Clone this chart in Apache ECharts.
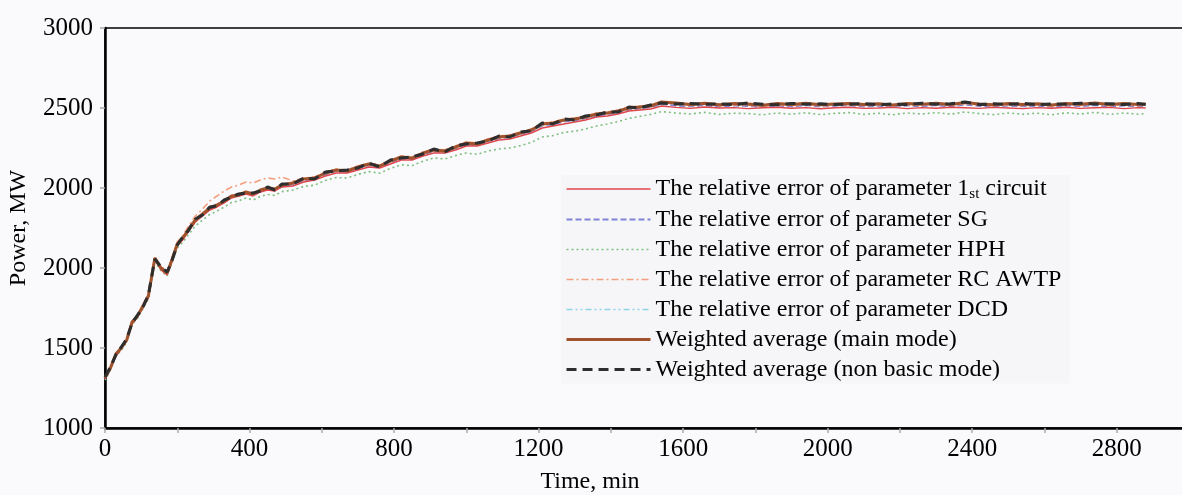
<!DOCTYPE html>
<html>
<head>
<meta charset="utf-8">
<script src="https://cdn.jsdelivr.net/npm/echarts@6/dist/echarts.min.js"></script>
<style>
html,body{margin:0;padding:0;background:#fafafc;}
#chart{width:1182px;height:495px;}
</style>
</head>
<body>
<div id="chart"></div>
<script>
var times = [0,15,30,45,60,75,90,105,120,138,155,172,185,200,215,230,250,270,290,310,330,350,370,390,410,430,450,470,490,
520,550,580,610,640,670,700,730,760,790,820,850,880,910,940,970,1000,1030,1060,1090,1120,1150,1180,1210,1240,1270,1300,1330,1360,1390,1420,1450,1480,1510,1540,
1580,1620,1660,1700,1740,1780,1820,1860,1900,1940,1980,2020,2060,2100,2140,2180,2220,2260,2300,2340,2380,2420,2460,2500,2540,2580,2620,2660,2700,2740,2780,2820,2860,2880];

var circuit1 = [1245,1295,1360,1395,1435,1520,1555,1600,1650,1840,1790,1765,1830,1910,1940,1980,2030,2060,2090,2105,2125,2150,2160,2170,2160,2180,2190,2185,2205,
2210,2230,2240,2260,2275,2275,2290,2305,2300,2320,2340,2340,2360,2375,2375,2390,2410,2410,2425,2440,2445,2460,2475,2500,2510,2520,2530,2540,2555,2560,2570,2585,2590,2595,2610,
2603,2598,2605,2600,2602,2597,2601,2604,2599,2602,2596,2601,2604,2598,2600,2603,2597,2602,2599,2604,2601,2598,2603,2600,2597,2602,2599,2604,2598,2601,2603,2597,2602,2600];

var sg = [1248,1298,1366,1398,1438,1527,1557,1606,1656,1846,1796,1772,1836,1916,1946,1986,2034,2064,2094,2110,2130,2154,2160,2174,2166,2184,2194,2190,2208,
2218,2238,2244,2268,2284,2280,2298,2314,2304,2328,2348,2344,2368,2384,2378,2398,2418,2414,2434,2448,2454,2468,2484,2512,2518,2532,2538,2548,2562,2568,2578,2592,2598,2604,2620,
2612,2608,2614,2606,2612,2610,2606,2612,2608,2614,2607,2611,2613,2607,2611,2606,2612,2609,2614,2608,2616,2610,2606,2612,2608,2611,2606,2613,2609,2614,2607,2612,2608,2610];

var hph = [1240,1290,1358,1388,1428,1518,1548,1596,1645,1832,1785,1760,1822,1900,1928,1965,2010,2040,2068,2085,2105,2128,2135,2150,2140,2158,2168,2163,2182,
2190,2208,2214,2238,2252,2250,2268,2282,2274,2298,2316,2312,2334,2350,2345,2362,2375,2368,2385,2395,2400,2412,2428,2455,2462,2478,2484,2495,2510,2520,2532,2548,2558,2568,2582,
2575,2570,2578,2568,2574,2572,2566,2575,2569,2576,2567,2573,2577,2568,2574,2566,2575,2570,2577,2569,2580,2572,2567,2575,2569,2574,2566,2576,2570,2578,2568,2575,2569,2572];

var rcAwtp = [1255,1305,1375,1405,1448,1535,1565,1615,1668,1855,1808,1782,1848,1930,1962,2005,2060,2095,2135,2160,2185,2205,2215,2230,2225,2240,2250,2245,2255,
2235,2250,2255,2280,2295,2290,2310,2325,2315,2340,2360,2355,2380,2395,2390,2410,2430,2425,2445,2460,2465,2480,2495,2525,2530,2545,2550,2560,2575,2580,2590,2605,2610,2615,2630,
2618,2612,2620,2610,2616,2614,2609,2617,2612,2619,2610,2615,2618,2611,2616,2609,2617,2613,2619,2612,2622,2615,2610,2617,2612,2616,2609,2618,2613,2620,2611,2617,2612,2615];

var dcd = [1252,1302,1368,1402,1442,1528,1562,1608,1662,1848,1802,1777,1838,1918,1952,1988,2038,2068,2098,2112,2132,2158,2162,2178,2168,2188,2198,2192,2212,
2222,2242,2248,2272,2288,2283,2302,2318,2308,2332,2352,2348,2372,2388,2382,2402,2422,2418,2438,2452,2458,2472,2488,2516,2522,2536,2542,2552,2566,2572,2582,2596,2602,2608,2626,
2620,2615,2621,2613,2619,2617,2611,2619,2615,2621,2613,2617,2620,2614,2618,2612,2619,2616,2621,2615,2624,2617,2613,2619,2615,2618,2612,2620,2616,2622,2614,2619,2615,2617];

var mainMode = [1250,1300,1370,1400,1440,1530,1560,1610,1660,1850,1800,1775,1840,1920,1950,1990,2040,2070,2100,2115,2135,2160,2165,2180,2170,2190,2200,2195,2215,
2225,2245,2250,2275,2290,2285,2305,2320,2310,2335,2355,2350,2375,2390,2385,2405,2425,2420,2440,2455,2460,2475,2490,2520,2525,2540,2545,2555,2570,2575,2585,2600,2605,2610,2630,
2625,2618,2624,2616,2622,2620,2614,2622,2618,2624,2616,2620,2623,2617,2621,2615,2622,2619,2624,2618,2628,2620,2616,2622,2618,2621,2615,2623,2619,2625,2617,2622,2618,2620];

var nonBasic = [1255,1305,1365,1405,1445,1525,1565,1605,1665,1845,1805,1780,1835,1915,1955,1985,2045,2065,2105,2110,2140,2155,2170,2175,2175,2185,2205,2190,2220,
2220,2250,2245,2280,2285,2290,2300,2325,2305,2340,2350,2355,2370,2395,2380,2410,2420,2425,2435,2460,2455,2480,2485,2525,2520,2545,2540,2560,2565,2580,2580,2605,2600,2615,2625,
2620,2623,2618,2621,2617,2625,2619,2616,2623,2619,2621,2617,2619,2622,2616,2620,2618,2624,2619,2621,2630,2617,2621,2618,2623,2616,2620,2619,2624,2620,2621,2617,2623,2618];

var seriesNames = [
  'The relative error of parameter 1st circuit',
  'The relative error of parameter SG',
  'The relative error of parameter HPH',
  'The relative error of parameter RC AWTP',
  'The relative error of parameter DCD',
  'Weighted average (main mode)',
  'Weighted average (non basic mode)'
];
var xTickLabels = ['0','400','800','1200','1600','2000','2400','2800'];
var yTickLabels = ['1000','1500','2000','2000','2500','3000'];

function pairs(arr){ return arr.map(function(v,i){ return [times[i], v]; }); }

var FONT = 'Liberation Serif';
var chart = echarts.init(document.getElementById('chart'));

var styles = [
  {data: circuit1, color:'#e0474c', width:1.4, type:'solid', z:5},
  {data: sg, color:'#7f84d6', width:1.8, type:[6,3], z:3},
  {data: hph, color:'#7fbf7f', width:1.6, type:[2,3], z:2},
  {data: rcAwtp, color:'#f2a07e', width:1.6, type:[7,3,2,3], z:4},
  {data: dcd, color:'#8fd3e6', width:1.6, type:[6,3,2,3,2,3], z:3},
  {data: mainMode, color:'#a0522d', width:3, type:'solid', z:6},
  {data: nonBasic, color:'#2e2e2e', width:3, type:[10,6], z:7}
];

var series = styles.map(function(s, i){
  return {
    name: seriesNames[i],
    type: 'line',
    data: pairs(s.data),
    symbol: 'none',
    z: s.z,
    lineStyle: {color: s.color, width: s.width, type: s.type},
    itemStyle: {color: s.color},
    animation: false
  };
});

chart.setOption({
  backgroundColor: '#fafafc',
  animation: false,
  grid: {left: 105, top: 28, width: 1084, height: 400, outerBoundsMode: 'none', containLabel: false,
         show: true, borderColor: '#000', borderWidth: 1.5, backgroundColor: 'transparent'},
  legend: {
    orient: 'vertical',
    left: 561,
    top: 175,
    data: seriesNames,
    itemWidth: 84,
    itemHeight: 14,
    itemGap: 6,
    padding: [2, 8, 2, 4],
    backgroundColor: 'rgba(240,240,243,0.4)',
    itemStyle: {opacity: 0},
    lineStyle: {width: 'inherit'},
    formatter: function(name){ return name.replace('1st', '1{sub|st}'); },
    textStyle: {
      fontFamily: FONT, fontSize: 24, color: '#000', lineHeight: 24,
      rich: {sub: {fontFamily: FONT, fontSize: 15, color: '#000', padding: [10, 0, 0, 0]}}
    }
  },
  xAxis: {
    type: 'value',
    min: 0, max: 3000, interval: 400,
    name: 'Time, min',
    nameLocation: 'middle',
    nameGap: 42,
    nameTextStyle: {fontFamily: FONT, fontSize: 24, color: '#000', padding: [0, 114, 0, 0]},
    axisLine: {show: true, lineStyle: {color: '#000', width: 2.5}},
    axisTick: {show: true, length: 5, lineStyle: {color: '#aaa', width: 1.5}},
    minorTick: {show: true, splitNumber: 2, length: 5, lineStyle: {color: '#aaa', width: 1.5}},
    splitLine: {show: false},
    axisLabel: {
      fontFamily: FONT, fontSize: 25, color: '#000', margin: 9,
      formatter: function(v){ var i = Math.round(v/400); return (v % 400 === 0 && i < xTickLabels.length) ? xTickLabels[i] : ''; }
    }
  },
  yAxis: {
    type: 'value',
    min: 1000, max: 3000, interval: 400,
    name: 'Power, MW',
    nameLocation: 'middle',
    nameGap: 74,
    nameTextStyle: {fontFamily: FONT, fontSize: 24, color: '#000'},
    axisLine: {show: true, lineStyle: {color: '#000', width: 2.5}},
    axisTick: {show: true, length: 5, lineStyle: {color: '#aaa', width: 1.5}},
    splitLine: {show: false},
    axisLabel: {
      fontFamily: FONT, fontSize: 25, color: '#000', margin: 12,
      formatter: function(v){ var i = Math.round((v-1000)/400); return yTickLabels[i] || ''; }
    }
  },
  series: series
});
</script>
</body>
</html>
